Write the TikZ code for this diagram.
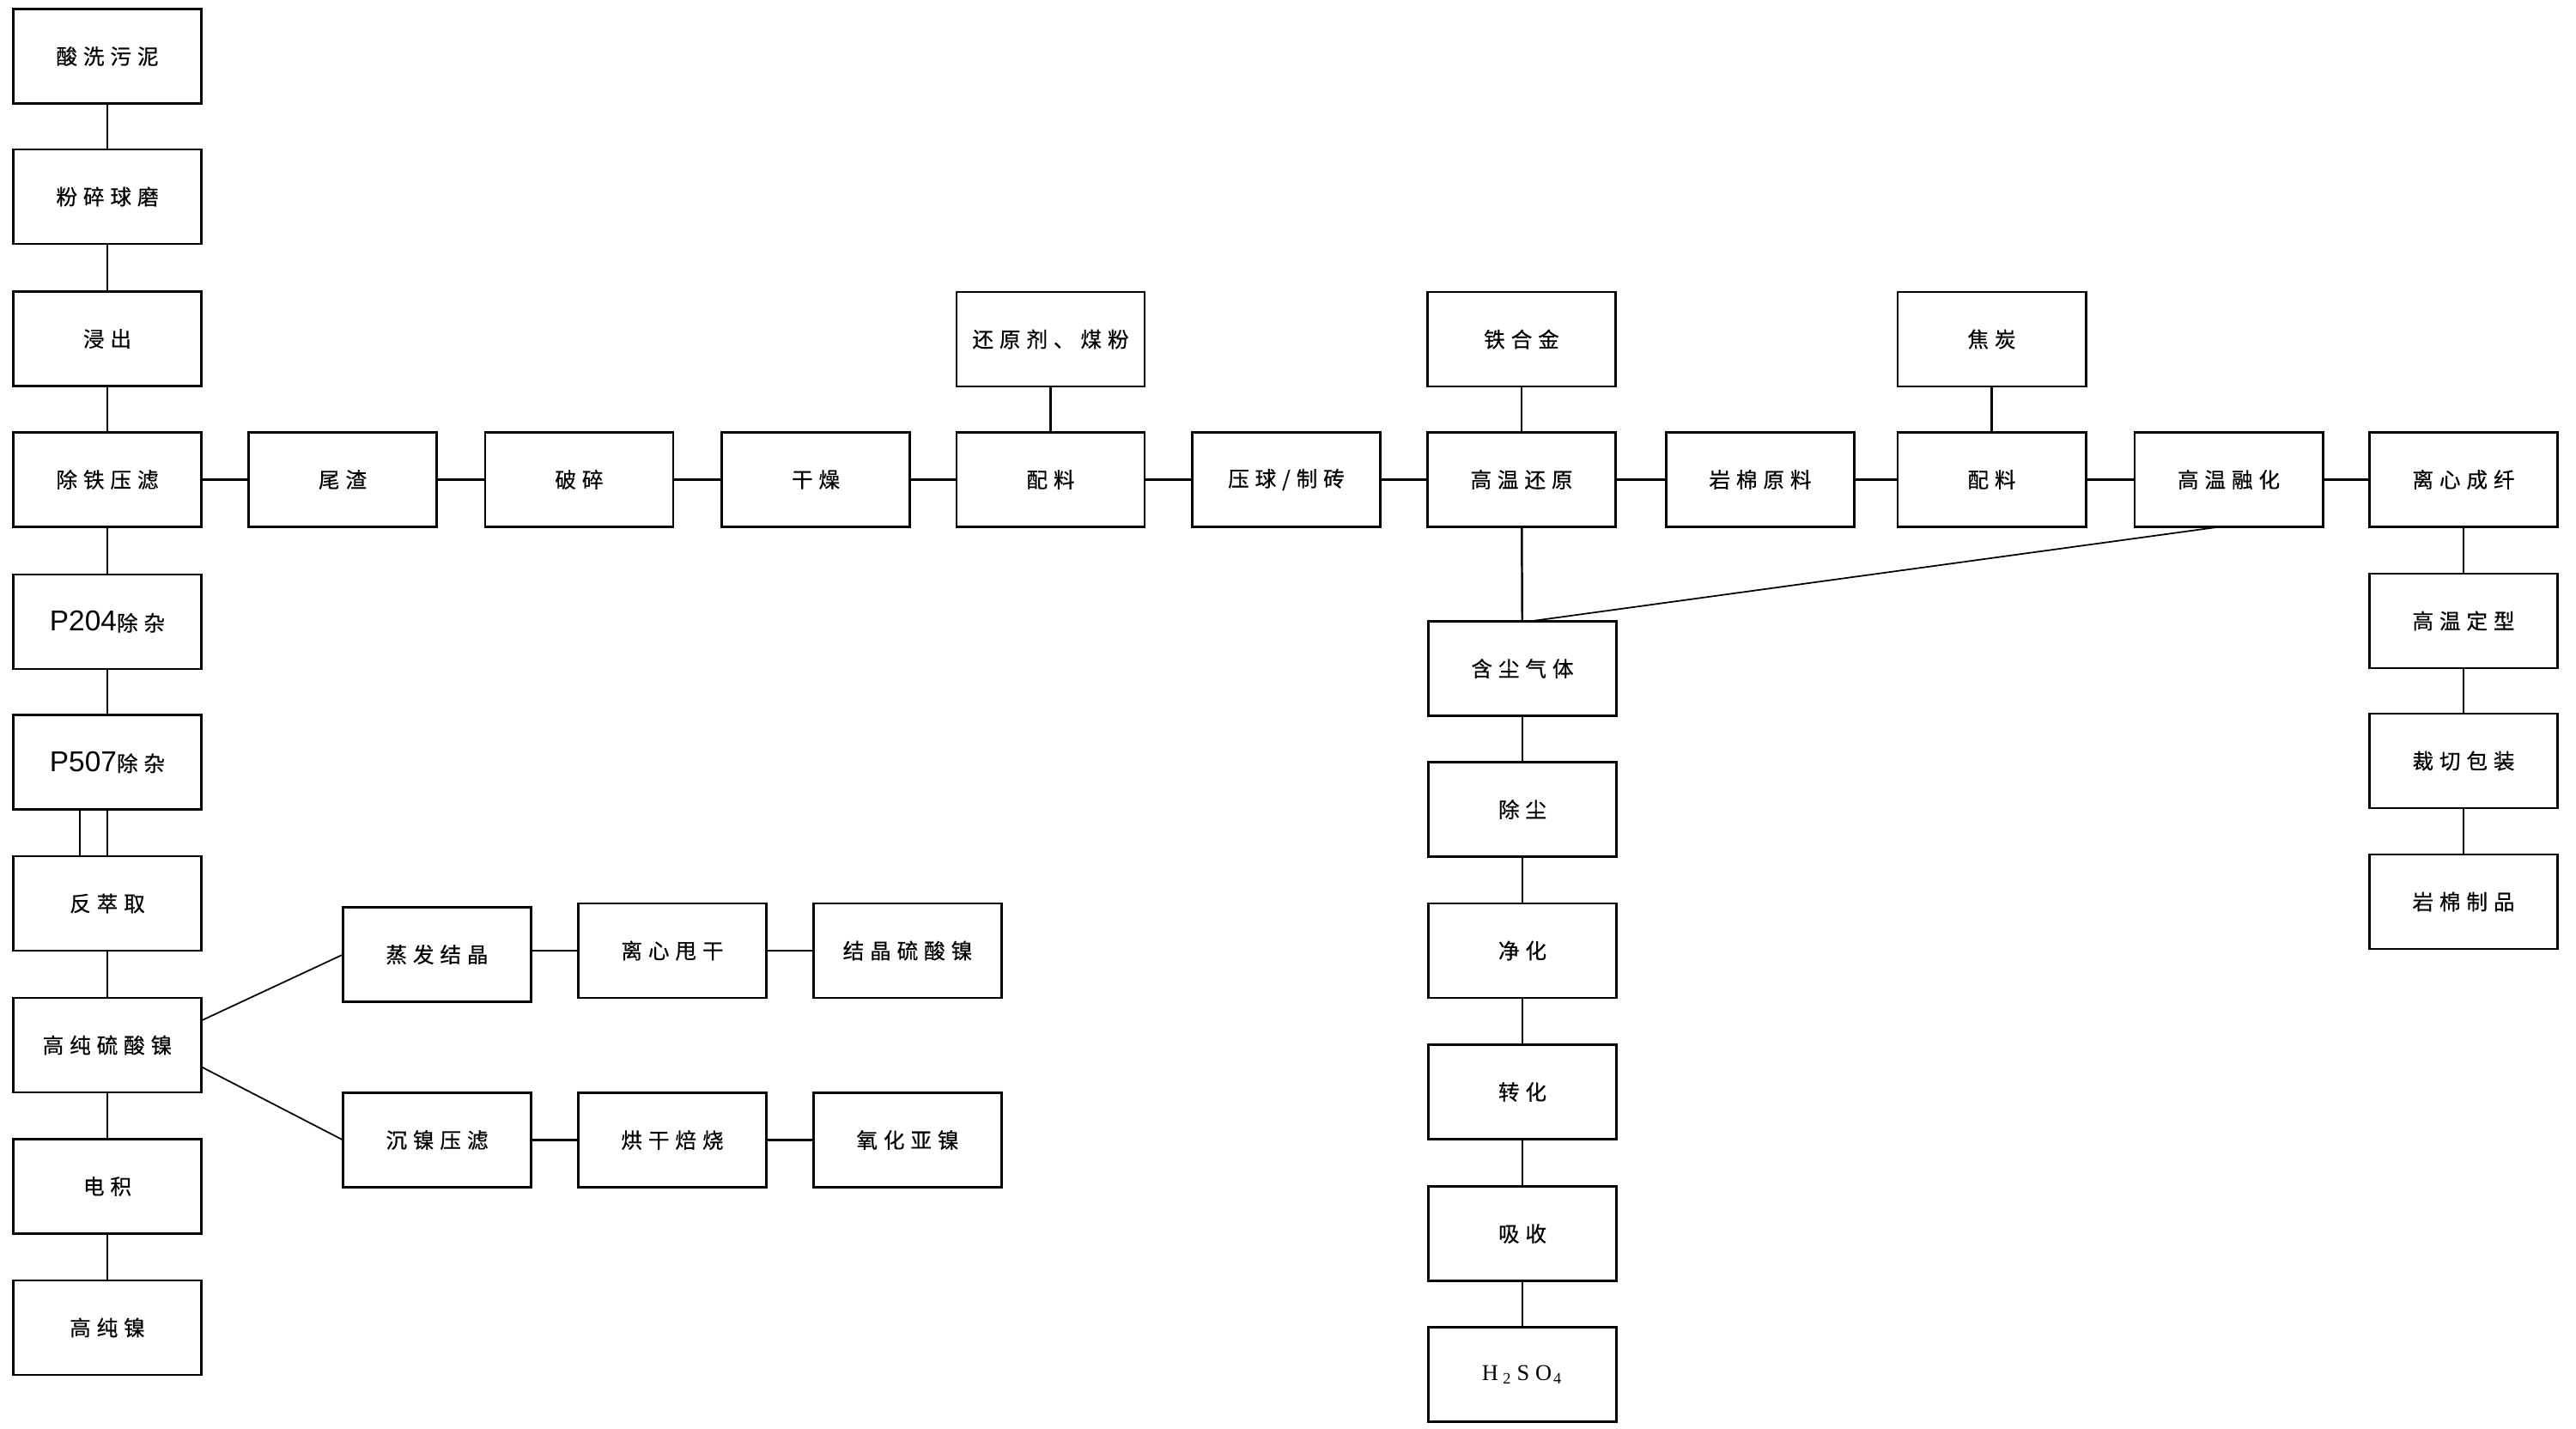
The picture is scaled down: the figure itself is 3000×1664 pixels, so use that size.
\documentclass[tikz,border=0pt]{standalone}
\usepackage{fontspec}
\newfontfamily\cjk[LetterSpace=28,FakeBold=0.5]{Noto Sans CJK SC}
\newfontfamily\latinsans{Liberation Sans}
\newfontfamily\latinserif{Liberation Serif}
\usetikzlibrary{calc}
\tikzset{
  box/.style={draw, line width=0.8pt, minimum width=2.19cm, minimum height=1.10cm,
    inner sep=0pt, outer sep=0pt, font=\cjk\fontsize{7}{8}\selectfont},
  link/.style={line width=0.7pt},
  thinlink/.style={line width=0.5pt}
}
\newcommand{\pnum}[1]{{\latinsans\fontsize{9.5}{10}\selectfont #1}}
\begin{document}
\begin{tikzpicture}[x=0.01cm,y=-0.01cm]
\useasboundingbox (0,0) rectangle (3000,1664);
% left column
\node[box] (a1) at (125,65.5) {酸洗污泥};
\node[box] (a2) at (125,229) {粉碎球磨};
\node[box] (a3) at (125,394.5) {浸出};
\node[box] (a4) at (125,558.5) {除铁压滤};
\node[box] (a5) at (125,724) {\pnum{P204}除杂};
\node[box] (a6) at (125,887.5) {\pnum{P507}除杂};
\node[box] (a7) at (125,1052) {反萃取};
\node[box] (a8) at (125,1217) {高纯硫酸镍};
\node[box] (a9) at (125,1381.5) {电积};
\node[box] (a10) at (125,1546) {高纯镍};
% main row
\node[box] (b1) at (399,558.5) {尾渣};
\node[box] (b2) at (674.5,558.5) {破碎};
\node[box] (b3) at (950,558.5) {干燥};
\node[box] (b4) at (1223.5,558.5) {配料};
\node[box] (b5) at (1498,558.5) {压球/制砖};
\node[box] (b6) at (1772,558.5) {高温还原};
\node[box] (b7) at (2050,558.5) {岩棉原料};
\node[box] (b8) at (2319.5,558.5) {配料};
\node[box] (b9) at (2595.5,558.5) {高温融化};
\node[box] (b10) at (2869,558.5) {离心成纤};
% top inputs
\node[box] (t1) at (1223.5,395) {还原剂、煤粉};
\node[box] (t2) at (1772,395) {铁合金};
\node[box] (t3) at (2319.5,395) {焦炭};
% gas column
\node[box] (g1) at (1773,778.5) {含尘气体};
\node[box] (g2) at (1773,942.5) {除尘};
\node[box] (g3) at (1773,1107) {净化};
\node[box] (g4) at (1773,1271.5) {转化};
\node[box] (g5) at (1773,1436.5) {吸收};
\node[box] (g6) at (1773,1600.5) {\latinserif\fontsize{7.5}{8}\selectfont H\hspace{1.5pt}\textsubscript{2}\hspace{1.5pt}S\hspace{2pt}O\hspace{0.5pt}\textsubscript{4}};
% right column
\node[box] (r2) at (2869,723) {高温定型};
\node[box] (r3) at (2869,886) {裁切包装};
\node[box] (r4) at (2869,1050) {岩棉制品};
% branches
\node[box] (c1) at (509,1111.5) {蒸发结晶};
\node[box] (c2) at (783,1107) {离心甩干};
\node[box] (c3) at (1057,1107) {结晶硫酸镍};
\node[box] (d1) at (509,1327.5) {沉镍压滤};
\node[box] (d2) at (783,1327.5) {烘干焙烧};
\node[box] (d3) at (1057,1327.5) {氧化亚镍};
% connectors
\draw[link] (a1) -- (a2);
\draw[link] (a2) -- (a3);
\draw[link] (a3) -- (a4);
\draw[link] (a4) -- (a5);
\draw[link] (a5) -- (a6);
\draw[link] (a6) -- (a7);
\draw[link] ($(a6.south)+(-32,0)$) -- ($(a7.north)+(-32,0)$);
\draw[link] (a7) -- (a8);
\draw[link] (a8) -- (a9);
\draw[link] (a9) -- (a10);
\draw[link] (a4) -- (b1);
\draw[link] (b1) -- (b2);
\draw[link] (b2) -- (b3);
\draw[link] (b3) -- (b4);
\draw[link] (b4) -- (b5);
\draw[link] (b5) -- (b6);
\draw[link] (b6) -- (b7);
\draw[link] (b7) -- (b8);
\draw[link] (b8) -- (b9);
\draw[link] (b9) -- (b10);
\draw[link] (t1) -- (b4);
\draw[link] (t2) -- (b6);
\draw[link] (t3) -- (b8);
\draw[link] (b6) -- (g1);
\draw[link] (g1) -- (g2);
\draw[link] (g2) -- (g3);
\draw[link] (g3) -- (g4);
\draw[link] (g4) -- (g5);
\draw[link] (g5) -- (g6);
\draw[thinlink] ($(b9.south west)!0.45!(b9.south east)$) -- ($(g1.north west)!0.54!(g1.north east)$);
\draw[link] (b10) -- (r2);
\draw[link] (r2) -- (r3);
\draw[link] (r3) -- (r4);
\draw[thinlink] ($(a8.north east)!0.24!(a8.south east)$) -- (c1.west);
\draw[thinlink] ($(a8.north east)!0.73!(a8.south east)$) -- (d1.west);
\draw[link] (c2.west -| c1.east) -- (c2.west);
\draw[link] (c2) -- (c3);
\draw[link] (d1) -- (d2);
\draw[link] (d2) -- (d3);
\end{tikzpicture}
\end{document}
